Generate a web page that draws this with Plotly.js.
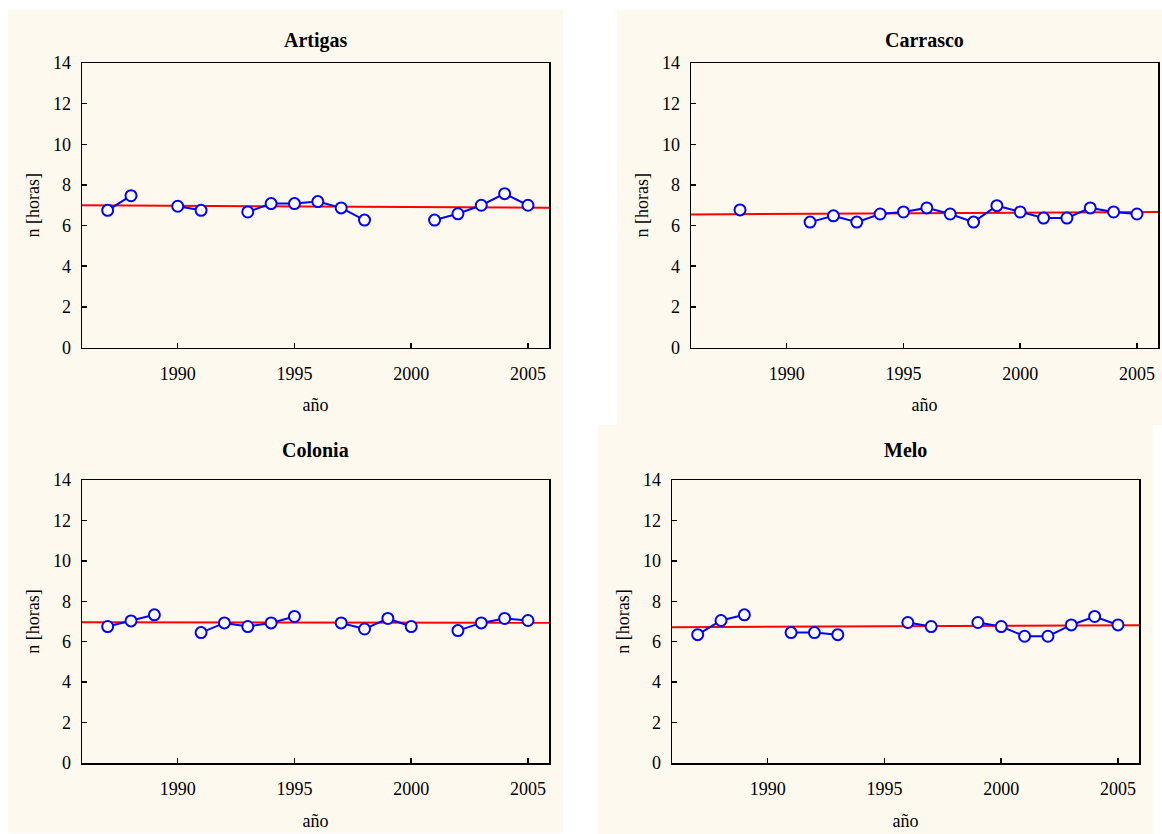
<!DOCTYPE html>
<html>
<head>
<meta charset="utf-8">
<script src="https://cdn.plot.ly/plotly-3.0.1.min.js"></script>
<style>html,body{margin:0;padding:0;background:#fff;}#chart{width:1162px;height:834px;}</style>
</head>
<body>
<div id="chart"></div>
<script>
// Data
const years = [1987,1988,1989,1990,1991,1992,1993,1994,1995,1996,1997,1998,1999,2000,2001,2002,2003,2004,2005];
const stations = ["Artigas","Carrasco","Colonia","Melo"];
const artigas  = [6.75,7.47,null,6.95,6.75,null,6.67,7.08,7.08,7.18,6.87,6.27,null,null,6.27,6.58,7.0,7.57,7.0];
const carrasco = [null,6.77,null,null,6.17,6.48,6.17,6.57,6.67,6.87,6.57,6.17,6.98,6.67,6.37,6.37,6.87,6.67,6.57];
const colonia  = [6.75,7.03,7.33,null,6.45,6.93,6.75,6.93,7.25,null,6.93,6.63,7.15,6.75,null,6.55,6.93,7.15,7.05];
const melo     = [6.35,7.05,7.33,null,6.45,6.45,6.35,null,null,6.95,6.75,null,6.95,6.75,6.27,6.27,6.83,7.25,6.83];
const trendYears = [1985.9,2005.9];
const trendArtigas  = [7.0,6.88];
const trendCarrasco = [6.55,6.67];
const trendColonia  = [6.96,6.94];
const trendMelo     = [6.72,6.82];
const xTicks = [1990,1995,2000,2005];
const xTitle = "año";
const yTitle = "n [horas]";

const series = [artigas,carrasco,colonia,melo];
const trends = [trendArtigas,trendCarrasco,trendColonia,trendMelo];

const W = 1162, H = 834;
// plot areas in pixels: [left, right, top, bottom]
const boxes = [
  [82,549,63,347.5],
  [691,1158,63,347.5],
  [82,549,480,763],
  [672,1139,480,763]
];
const titleY = [40,40,450,450];

const font = "Liberation Serif, Times New Roman, serif";
const traces = [];
const layout = {
  width: W, height: H,
  margin: {l:0,r:0,t:0,b:0},
  paper_bgcolor: "#ffffff",
  plot_bgcolor: "#ffffff",
  showlegend: false,
  font: {family: font, size: 18, color: "#000"},
  shapes: [
    {type:"rect", xref:"paper", yref:"paper", x0:8/W, x1:563/W, y0:1-833/H, y1:1-10/H, fillcolor:"#fef9ef", line:{width:0}, layer:"below"},
    {type:"rect", xref:"paper", yref:"paper", x0:617/W, x1:1, y0:1-425/H, y1:1-10/H, fillcolor:"#fef9ef", line:{width:0}, layer:"below"},
    {type:"rect", xref:"paper", yref:"paper", x0:598/W, x1:1153/W, y0:0, y1:1-425/H, fillcolor:"#fef9ef", line:{width:0}, layer:"below"}
  ],
  annotations: []
};

for (let i=0;i<4;i++){
  const n = i===0 ? "" : String(i+1);
  const xa = "x"+n, ya = "y"+n;
  const b = boxes[i];
  traces.push({
    x: trendYears, y: trends[i], xaxis: xa, yaxis: ya,
    mode: "lines", line: {color: "#ff0000", width: 2}, hoverinfo: "skip"
  });
  traces.push({
    x: years, y: series[i], xaxis: xa, yaxis: ya,
    mode: "lines+markers", connectgaps: false,
    line: {color: "#0000ff", width: 2},
    marker: {symbol: "circle", size: 11, color: "#ffffff", line: {width: 2, color: "#0000ff"}}
  });
  layout["xaxis"+n] = {
    domain: [b[0]/W, b[1]/W], anchor: ya,
    range: [1985.9, 2005.9], tickvals: xTicks, ticktext: xTicks.map(String),
    showgrid: false, zeroline: false,
    showline: true, mirror: true, linecolor: "#000", linewidth: 1.5,
    ticks: "inside", ticklen: 5, tickcolor: "#000", tickwidth: 1.5,
    ticklabelstandoff: 9,
    tickfont: {family: font, size: 18, color: "#000"},
    title: {text: xTitle, font: {family: font, size: 18, color: "#000"}, standoff: 16},
    automargin: false
  };
  layout["yaxis"+n] = {
    domain: [1-b[3]/H, 1-b[2]/H], anchor: xa,
    range: [0, 14], dtick: 2, tick0: 0,
    showgrid: false, zeroline: false,
    showline: true, mirror: true, linecolor: "#000", linewidth: 1.5,
    ticks: "inside", ticklen: 5, tickcolor: "#000", tickwidth: 1.5,
    ticklabelstandoff: 6,
    tickfont: {family: font, size: 18, color: "#000"},
    title: {text: yTitle, font: {family: font, size: 18, color: "#000"}, standoff: 8},
    automargin: false
  };
  layout.annotations.push({
    text: "<b>"+stations[i]+"</b>", xref: "paper", yref: "paper",
    x: (b[0]+b[1])/2/W, y: 1-titleY[i]/H, xanchor: "center", yanchor: "middle",
    showarrow: false, font: {family: font, size: 20, color: "#000"}
  });
}

Plotly.newPlot("chart", traces, layout, {staticPlot: true, displayModeBar: false});
</script>
</body>
</html>
